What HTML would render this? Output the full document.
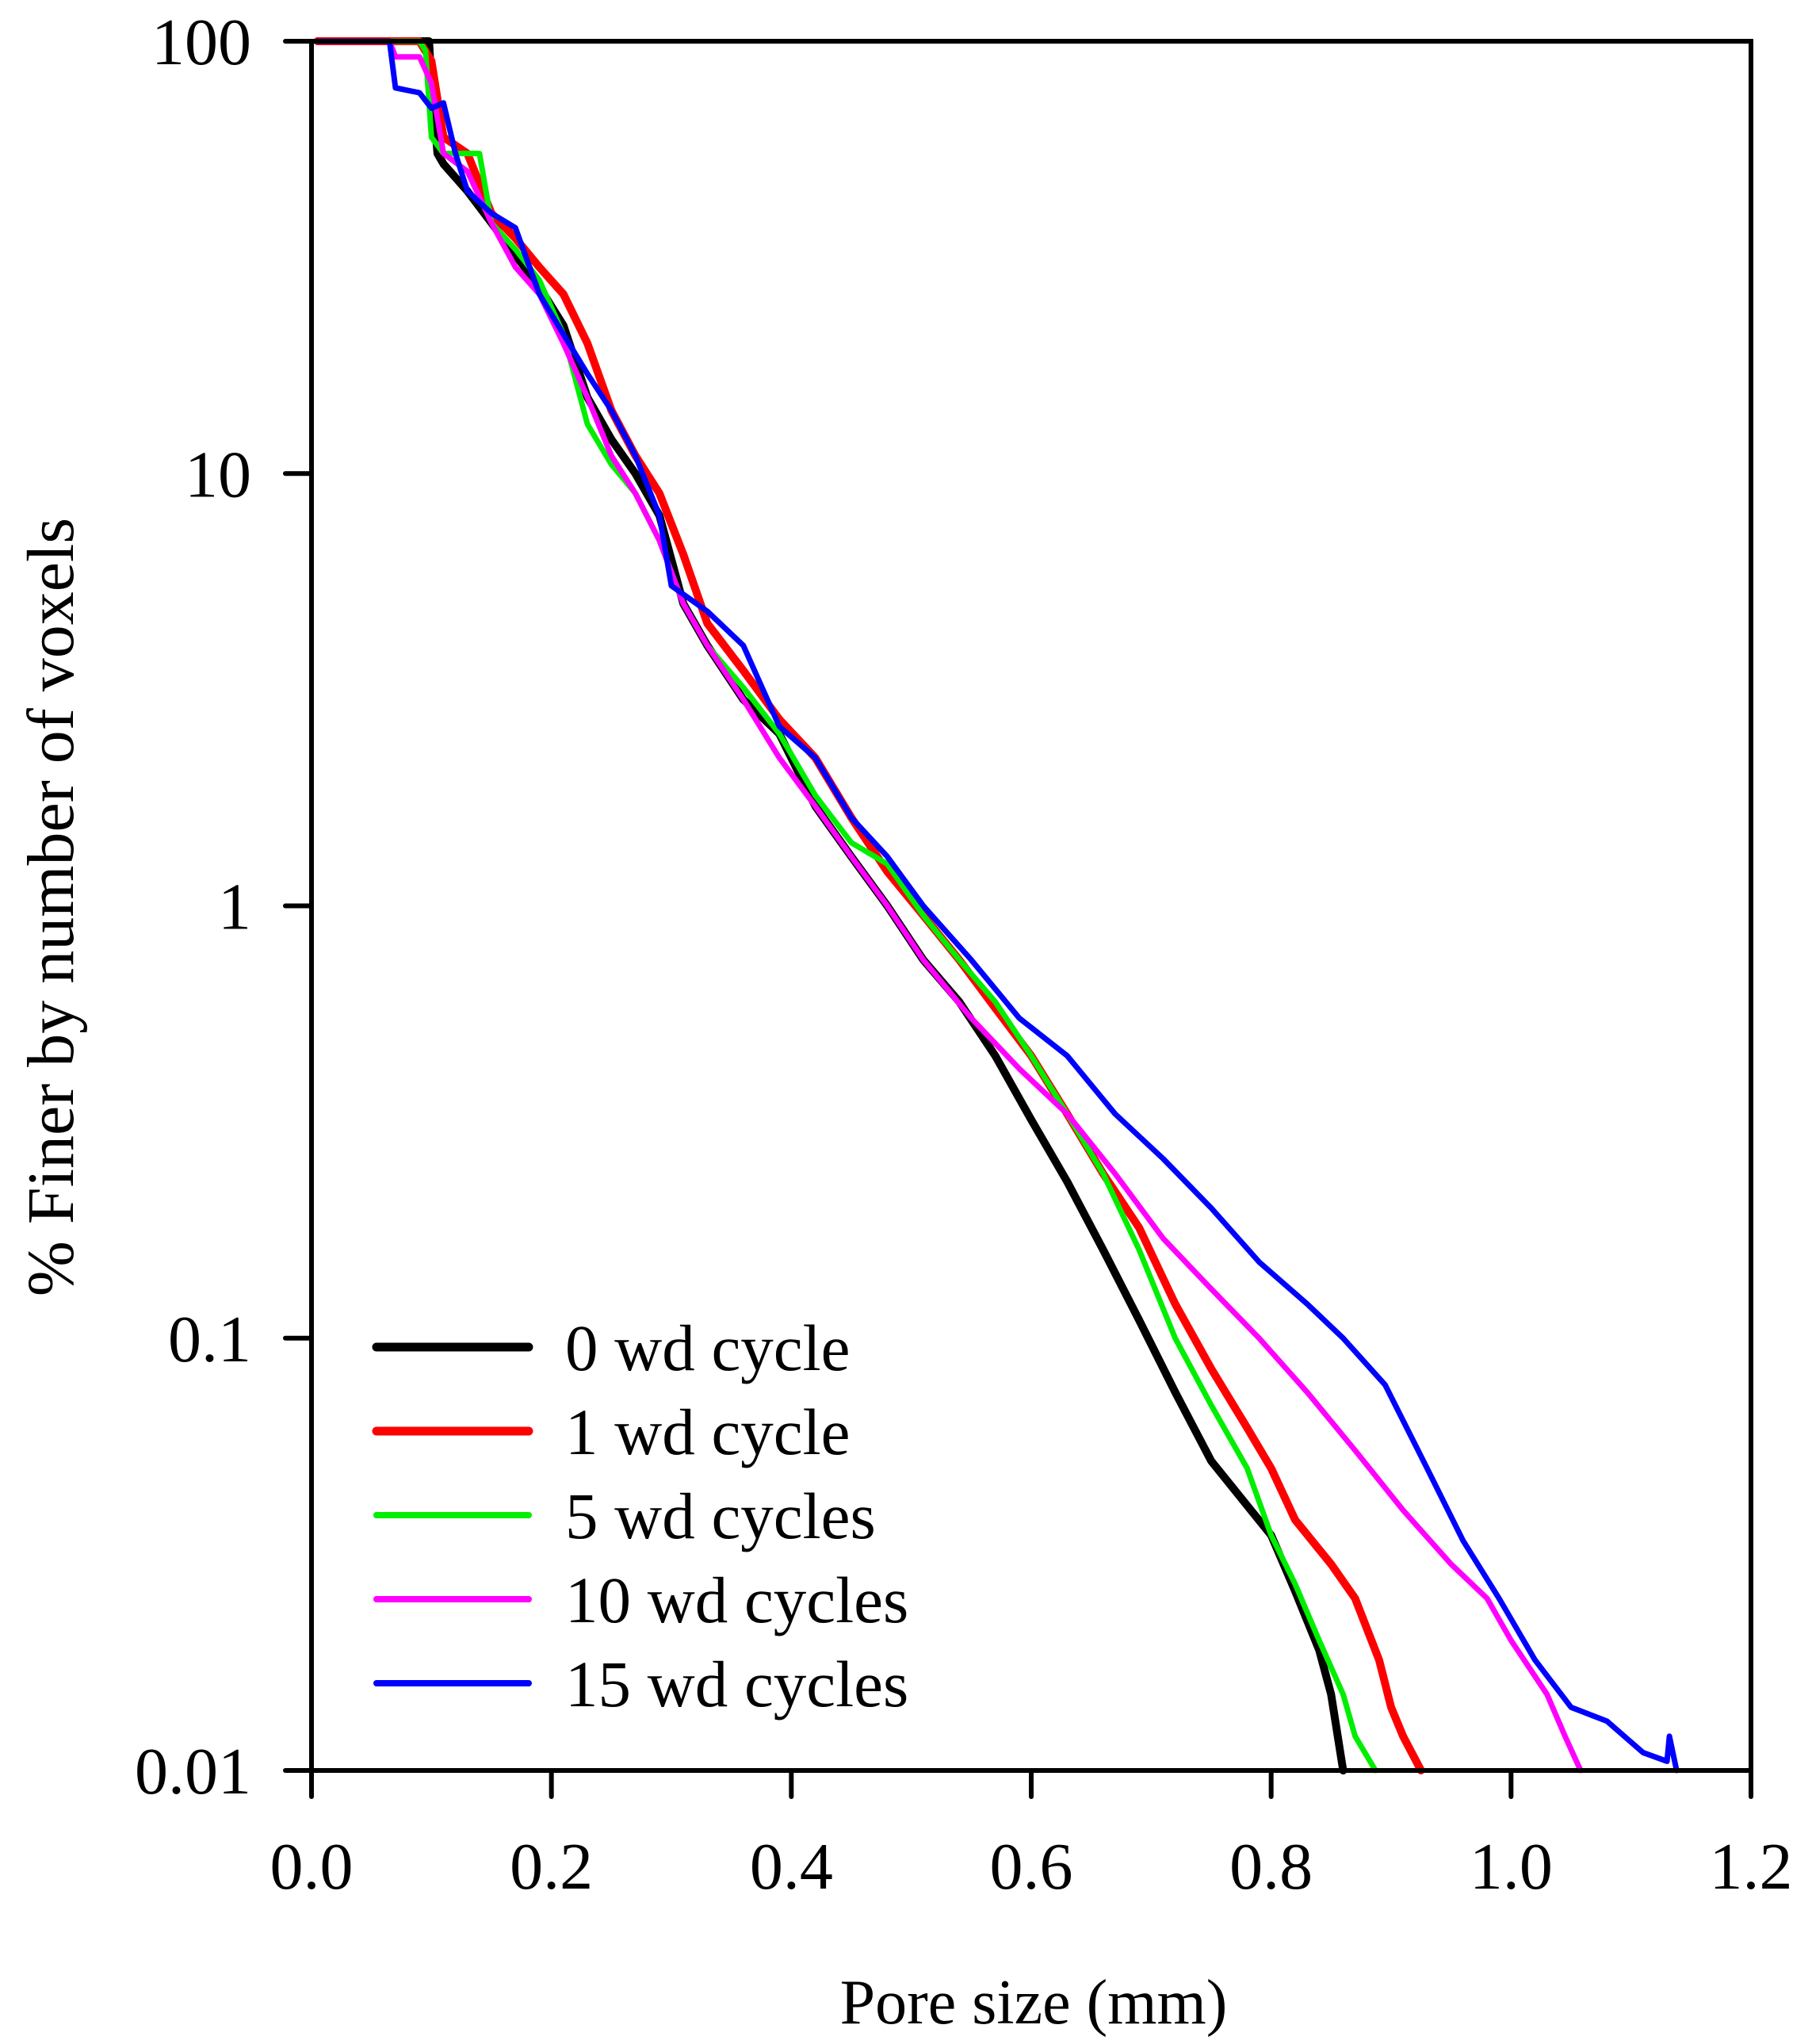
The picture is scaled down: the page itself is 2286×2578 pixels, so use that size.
<!DOCTYPE html>
<html><head><meta charset="utf-8"><style>
html,body{margin:0;padding:0;background:#fff;}
svg{display:block;}
text{font-family:"Liberation Serif",serif;fill:#000;}
</style></head><body>
<svg id="chart" width="2286" height="2578" viewBox="0 0 2286 2578" xmlns="http://www.w3.org/2000/svg">
<g id="series"></g>
<g id="axes"></g>
<g id="legend"></g>
<text x="1304" y="2552" font-size="80" text-anchor="middle">Pore size (mm)</text>
<text transform="translate(92,1144) rotate(-90)" font-size="84" text-anchor="middle">% Finer by number of voxels</text>
</svg>
<script>
const xTicks=[0,0.2,0.4,0.6,0.8,1.0,1.2];
const xTickLabels=["0.0","0.2","0.4","0.6","0.8","1.0","1.2"];
const yTicks=[100,10,1,0.1,0.01];
const yTickLabels=["100","10","1","0.1","0.01"];
const seriesNames=["0 wd cycle","1 wd cycle","5 wd cycles","10 wd cycles","15 wd cycles"];
const seriesColors=["#000000","#ff0000","#00ee00","#ff00ff","#0000ff"];
const seriesWidths=[10,10,7,7,7];
const x0=[0.005,0.098,0.100,0.105,0.110,0.13,0.15,0.17,0.19,0.21,0.23,0.25,0.27,0.29,0.31,0.33,0.36,0.39,0.42,0.45,0.48,0.51,0.54,0.57,0.60,0.63,0.66,0.69,0.72,0.75,0.78,0.80,0.82,0.84,0.85,0.86];
const y0=[100,100,80,55,52,45,38,32,27,22,15,12,10,8,5,4,3,2.5,1.7,1.3,1.0,0.75,0.6,0.45,0.32,0.23,0.16,0.11,0.075,0.052,0.041,0.035,0.026,0.019,0.015,0.01];
const x1=[0.005,0.09,0.10,0.11,0.13,0.15,0.17,0.19,0.21,0.23,0.25,0.27,0.29,0.31,0.33,0.36,0.39,0.42,0.45,0.48,0.51,0.54,0.57,0.60,0.63,0.66,0.69,0.72,0.75,0.78,0.80,0.82,0.85,0.87,0.89,0.90,0.91,0.925];
const y1=[100,100,90,60,55,40,35,30,26,20,14,11,9,6.5,4.5,3.5,2.7,2.2,1.6,1.2,0.95,0.75,0.58,0.45,0.33,0.24,0.18,0.12,0.085,0.062,0.05,0.038,0.03,0.025,0.018,0.014,0.012,0.01];
const x2=[0.005,0.09,0.095,0.10,0.11,0.14,0.15,0.17,0.19,0.21,0.23,0.25,0.27,0.29,0.31,0.33,0.36,0.39,0.42,0.45,0.48,0.51,0.54,0.57,0.60,0.63,0.66,0.69,0.72,0.75,0.78,0.80,0.82,0.84,0.86,0.87,0.887];
const y2=[100,100,95,60,55,55,38,33,28,21,13,10.5,9,7,5,4,3.2,2.5,1.8,1.4,1.25,0.95,0.75,0.6,0.45,0.33,0.24,0.16,0.1,0.07,0.05,0.035,0.027,0.02,0.015,0.012,0.01];
const x3=[0.005,0.065,0.07,0.09,0.10,0.11,0.13,0.15,0.17,0.19,0.21,0.23,0.25,0.27,0.29,0.31,0.33,0.36,0.39,0.42,0.45,0.48,0.51,0.55,0.59,0.63,0.67,0.71,0.75,0.79,0.83,0.87,0.91,0.95,0.98,1.00,1.03,1.045,1.058];
const y3=[100,100,92,92,80,55,50,38,30,26,20,15,11,9,7,5,4,3,2.2,1.7,1.3,1.0,0.75,0.55,0.42,0.33,0.24,0.17,0.13,0.1,0.075,0.055,0.04,0.03,0.025,0.02,0.015,0.012,0.01];
const x4=[0.005,0.065,0.07,0.09,0.10,0.11,0.12,0.13,0.15,0.17,0.19,0.21,0.23,0.25,0.27,0.29,0.30,0.33,0.36,0.39,0.42,0.45,0.48,0.51,0.55,0.59,0.63,0.67,0.71,0.75,0.79,0.83,0.86,0.895,0.93,0.96,0.99,1.02,1.05,1.08,1.11,1.13,1.132,1.138];
const y4=[100,100,78,76,70,72,55,45,40,37,26,21,17,14,11,8,5.5,4.8,4,2.6,2.2,1.6,1.3,1.0,0.75,0.55,0.45,0.33,0.26,0.2,0.15,0.12,0.1,0.078,0.05,0.034,0.025,0.018,0.014,0.013,0.011,0.0105,0.012,0.01];
const seriesX=[x0,x1,x2,x3,x4];
const seriesY=[y0,y1,y2,y3,y4];

const L=393,R=2209,T=52,B=2233;
function sx(v){return L+(v/1.2)*(R-L);}
function sy(v){return T+(2-Math.log10(v))/4*(B-T);}
const NS="http://www.w3.org/2000/svg";
function mk(tag,attrs,parent){const e=document.createElementNS(NS,tag);for(const k in attrs)e.setAttribute(k,attrs[k]);parent.appendChild(e);return e;}
const gS=document.getElementById('series'),gA=document.getElementById('axes'),gL=document.getElementById('legend');
for(let s=0;s<5;s++){
  const pts=seriesX[s].map((x,i)=>sx(x).toFixed(1)+','+sy(seriesY[s][i]).toFixed(1)).join(' ');
  const p=mk('polyline',{points:pts,fill:'none',stroke:seriesColors[s],'stroke-width':seriesWidths[s],'stroke-linejoin':'round','stroke-linecap':'round'},gS);
  
  
}
const fr=mk('rect',{x:L,y:T,width:R-L,height:B-T,fill:'none',stroke:'#000','stroke-width':6},gA);


xTicks.forEach((v,i)=>{
  const t=mk('line',{x1:sx(v),x2:sx(v),y1:B,y2:B+33,stroke:'#000','stroke-width':6,'stroke-linecap':'round'},gA);
  
  
  const lb=mk('text',{x:sx(v),y:2382,'font-size':84,'text-anchor':'middle'},gA);
  lb.textContent=xTickLabels[i];
  
  
});
yTicks.forEach((v,i)=>{
  const t=mk('line',{x1:L-33,x2:L,y1:sy(v),y2:sy(v),stroke:'#000','stroke-width':6,'stroke-linecap':'round'},gA);
  
  
  const lb=mk('text',{x:317,y:sy(v)+29,'font-size':84,'text-anchor':'end'},gA);
  lb.textContent=yTickLabels[i];
  
  
});
for(let s=0;s<5;s++){
  const y=1699+s*106;
  const ln=mk('line',{x1:475,x2:667,y1:y,y2:y,stroke:seriesColors[s],'stroke-width':s<2?11:8,'stroke-linecap':'round'},gL);
  
  
  const tx=mk('text',{x:713,y:y+29,'font-size':83},gL);
  tx.textContent=seriesNames[s];
  
  
}
</script>
</body></html>
